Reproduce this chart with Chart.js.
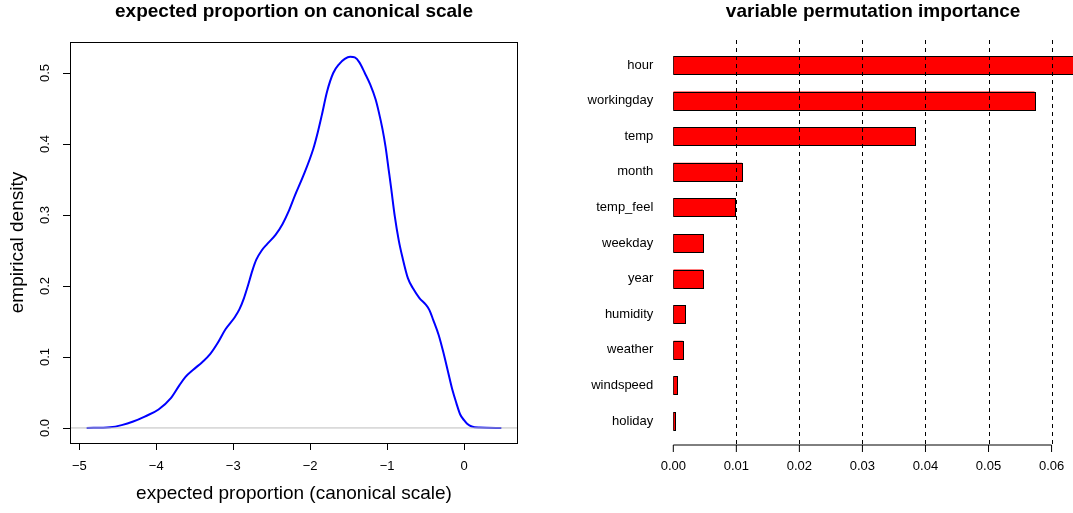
<!DOCTYPE html>
<html>
<head>
<meta charset="utf-8">
<script src="https://cdn.jsdelivr.net/npm/chart.js@4"></script>
<style>
  body { margin: 0; background: #fff; }
  #densityChart { position: absolute; left: 0; top: 0; }
  #importanceChart { position: absolute; left: 540px; top: 0; }
</style>
</head>
<body>
<canvas id="densityChart" width="540" height="513"></canvas>
<canvas id="importanceChart" width="533" height="513"></canvas>
<script>
// left panel: density of expected proportion
const densityX = [-4.905, -4.60, -4.45, -4.30, -4.15, -3.97, -3.81, -3.70, -3.62, -3.52, -3.40, -3.30, -3.20, -3.10,
  -2.98, -2.92, -2.86, -2.81, -2.75, -2.70, -2.63, -2.56, -2.45, -2.36, -2.28, -2.20, -2.09, -1.96, -1.90, -1.85,
  -1.78, -1.70, -1.62, -1.55, -1.48, -1.42, -1.36, -1.29, -1.22, -1.15, -1.11, -1.06, -1.02, -0.98, -0.95, -0.90,
  -0.85, -0.80, -0.73, -0.66, -0.58, -0.50, -0.45, -0.40, -0.33, -0.27, -0.21, -0.15, -0.10, -0.05, 0.00, 0.04,
  0.10, 0.20, 0.485];
const densityY = [0.000, 0.001, 0.004, 0.009, 0.016, 0.026, 0.042, 0.060, 0.072, 0.082, 0.093, 0.104, 0.120, 0.139,
  0.156, 0.167, 0.183, 0.200, 0.222, 0.237, 0.250, 0.259, 0.272, 0.287, 0.305, 0.327, 0.355, 0.393, 0.417, 0.440,
  0.474, 0.500, 0.513, 0.520, 0.523, 0.522, 0.515, 0.500, 0.484, 0.463, 0.446, 0.421, 0.396, 0.364, 0.340, 0.298,
  0.265, 0.240, 0.211, 0.196, 0.183, 0.174, 0.166, 0.152, 0.131, 0.107, 0.080, 0.053, 0.035, 0.019, 0.011, 0.006,
  0.002, 0.0005, 0.000];
const densityTicksX = [-5, -4, -3, -2, -1, 0];
const densityTicksY = [0, 0.1, 0.2, 0.3, 0.4, 0.5];

// right panel: permutation importance
const variables = ['hour', 'workingday', 'temp', 'month', 'temp_feel', 'weekday', 'year', 'humidity', 'weather', 'windspeed', 'holiday'];
const importance = [0.0650, 0.0573, 0.0384, 0.0109, 0.0098, 0.0047, 0.0047, 0.0019, 0.0015, 0.0006, 0.0003];
const importanceTicks = [0, 0.01, 0.02, 0.03, 0.04, 0.05, 0.06];

const FONT = '"Liberation Sans", Arial, Helvetica, sans-serif';
Chart.defaults.font.family = FONT;
Chart.defaults.color = '#000';

function minus(v) {
    return v < 0 ? '\u2212' + Math.abs(v) : String(v);
}

function drawMain(chart, text) {
    const ctx = chart.ctx;
    const area = chart.chartArea;
    ctx.save();
    ctx.font = 'bold 19px ' + FONT;
    ctx.fillStyle = '#000';
    ctx.textAlign = 'center';
    ctx.textBaseline = 'middle';
    ctx.fillText(text, (area.left + area.right) / 2, 12);
    ctx.restore();
}

const densityPlugin = {
    id: 'densityAxes',
    afterDatasetsDraw(chart) {
        // abline(h = 0, col = "gray")
        const ctx = chart.ctx;
        const area = chart.chartArea;
        const y0 = chart.scales.y.getPixelForValue(0);
        ctx.save();
        ctx.strokeStyle = '#BEBEBE';
        ctx.lineWidth = 1;
        ctx.beginPath();
        ctx.moveTo(area.left, y0);
        ctx.lineTo(area.right, y0);
        ctx.stroke();
        ctx.restore();
    },
    afterDraw(chart) {
        const ctx = chart.ctx;
        const area = chart.chartArea;
        const xs = chart.scales.x;
        const ys = chart.scales.y;
        ctx.save();
        ctx.strokeStyle = '#000';
        ctx.lineWidth = 1;
        ctx.strokeRect(Math.round(area.left) + 0.5, Math.round(area.top) + 0.5,
            Math.round(area.right - area.left) - 1, Math.round(area.bottom - area.top));
        ctx.beginPath();
        densityTicksX.forEach(v => {
            const px = Math.round(xs.getPixelForValue(v)) + 0.5;
            ctx.moveTo(px, area.bottom);
            ctx.lineTo(px, area.bottom + 7);
        });
        densityTicksY.forEach(v => {
            const py = Math.round(ys.getPixelForValue(v)) + 0.5;
            ctx.moveTo(area.left, py);
            ctx.lineTo(area.left - 7, py);
        });
        ctx.stroke();
        // y tick labels parallel to the axis, as R does
        ctx.font = '13px ' + FONT;
        ctx.fillStyle = '#000';
        ctx.textAlign = 'center';
        ctx.textBaseline = 'middle';
        densityTicksY.forEach(v => {
            ctx.save();
            ctx.translate(45, ys.getPixelForValue(v));
            ctx.rotate(-Math.PI / 2);
            ctx.fillText(v.toFixed(1), 0, 0);
            ctx.restore();
        });
        ctx.restore();
        drawMain(chart, 'expected proportion on canonical scale');
    }
};

const importancePlugin = {
    id: 'importanceAxes',
    afterDatasetsDraw(chart) {
        const ctx = chart.ctx;
        const area = chart.chartArea;
        const xs = chart.scales.x;
        ctx.save();
        // bar outlines, stroked on the rectangle edge like R's barplot
        ctx.beginPath();
        ctx.rect(area.left, 0, area.right - area.left, chart.height);
        ctx.clip();
        ctx.strokeStyle = '#000';
        ctx.lineWidth = 1;
        chart.getDatasetMeta(0).data.forEach(bar => {
            const p = bar.getProps(['x', 'y', 'base', 'height'], true);
            const l = Math.round(p.base) + 0.5;
            const r = Math.round(p.x) + 0.5;
            const t = Math.round(p.y - p.height / 2) + 0.5;
            const b = Math.round(p.y + p.height / 2) + 0.5;
            ctx.fillStyle = '#FF0000';
            ctx.fillRect(l, t, r - l, b - t);
            ctx.strokeRect(l, t, r - l, b - t);
        });
        // abline(v = ..., lty = 2)
        ctx.setLineDash([4, 4]);
        ctx.beginPath();
        importanceTicks.filter(v => v > 0).forEach(v => {
            const px = Math.round(xs.getPixelForValue(v)) + 0.5;
            ctx.moveTo(px, 40);
            ctx.lineTo(px, 445);
        });
        ctx.stroke();
        ctx.restore();
    },
    afterDraw(chart) {
        const ctx = chart.ctx;
        const xs = chart.scales.x;
        const first = xs.getPixelForValue(importanceTicks[0]);
        const last = xs.getPixelForValue(importanceTicks[importanceTicks.length - 1]);
        ctx.save();
        ctx.strokeStyle = '#000';
        ctx.lineWidth = 1;
        ctx.beginPath();
        ctx.moveTo(first, 445);
        ctx.lineTo(last, 445);
        importanceTicks.forEach(v => {
            const px = xs.getPixelForValue(v);
            ctx.moveTo(px, 445);
            ctx.lineTo(px, 452);
        });
        ctx.stroke();
        ctx.restore();
        drawMain(chart, 'variable permutation importance');
    }
};

function noPadding(scale) {
    scale.paddingLeft = 0;
    scale.paddingRight = 0;
    scale.paddingTop = 0;
    scale.paddingBottom = 0;
}

document.addEventListener('DOMContentLoaded', () => {
    const points = densityX.map((x, i) => ({ x: x, y: densityY[i] }));

    new Chart(document.getElementById('densityChart'), {
        type: 'line',
        data: {
            datasets: [{
                data: points,
                borderColor: '#0000FF',
                borderWidth: 2,
                pointRadius: 0,
                cubicInterpolationMode: 'monotone',
                fill: false
            }]
        },
        options: {
            responsive: false,
            animation: false,
            layout: { padding: { top: 42, right: 22, bottom: 0, left: 0 } },
            plugins: { legend: { display: false }, tooltip: { enabled: false } },
            scales: {
                x: {
                    type: 'linear',
                    min: -5.121,
                    max: 0.701,
                    grid: { display: false, drawTicks: false },
                    border: { display: false },
                    afterBuildTicks: s => { s.ticks = densityTicksX.map(v => ({ value: v })); },
                    afterFit: s => { s.height = 70; noPadding(s); },
                    ticks: {
                        autoSkip: false,
                        maxRotation: 0,
                        padding: 16,
                        color: '#000',
                        font: { size: 13 },
                        callback: v => minus(v)
                    },
                    title: {
                        display: true,
                        text: 'expected proportion (canonical scale)',
                        color: '#000',
                        font: { size: 19 },
                        padding: { top: 0, bottom: 8 }
                    }
                },
                y: {
                    type: 'linear',
                    min: -0.0212,
                    max: 0.5437,
                    grid: { display: false, drawTicks: false },
                    border: { display: false },
                    afterBuildTicks: s => { s.ticks = densityTicksY.map(v => ({ value: v })); },
                    afterFit: s => { s.width = 70; noPadding(s); },
                    ticks: { display: false },
                    title: {
                        display: true,
                        text: 'empirical density',
                        color: '#000',
                        font: { size: 19 },
                        padding: { top: 6, bottom: 0 }
                    }
                }
            }
        },
        plugins: [densityPlugin]
    });

    new Chart(document.getElementById('importanceChart'), {
        type: 'bar',
        data: {
            labels: variables,
            datasets: [{
                data: importance,
                backgroundColor: '#FF0000',
                borderWidth: 0,
                categoryPercentage: 1,
                barPercentage: 0.505,
                clip: 0
            }]
        },
        options: {
            indexAxis: 'y',
            responsive: false,
            animation: false,
            layout: { padding: { top: 47.2, right: 0, bottom: 0, left: 0 } },
            plugins: { legend: { display: false }, tooltip: { enabled: false } },
            scales: {
                x: {
                    type: 'linear',
                    min: 0,
                    max: 0.0634,
                    grid: { display: false, drawTicks: false },
                    border: { display: false },
                    afterBuildTicks: s => { s.ticks = importanceTicks.map(v => ({ value: v })); },
                    afterFit: s => { s.height = 74.2; noPadding(s); },
                    ticks: {
                        autoSkip: false,
                        maxRotation: 0,
                        padding: 20,
                        color: '#000',
                        font: { size: 13 },
                        callback: v => v.toFixed(2)
                    }
                },
                y: {
                    type: 'category',
                    grid: { display: false, drawTicks: false },
                    border: { display: false },
                    afterFit: s => { s.width = 133.3; noPadding(s); },
                    ticks: {
                        autoSkip: false,
                        padding: 20,
                        color: '#000',
                        font: { size: 13 }
                    }
                }
            }
        },
        plugins: [importancePlugin]
    });
});
</script>
</body>
</html>
